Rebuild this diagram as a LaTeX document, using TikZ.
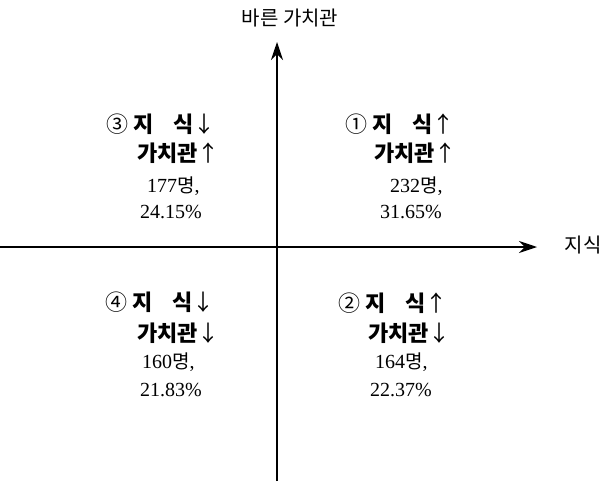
\documentclass[tikz,border=0pt]{standalone}
\usepackage{fontspec}
\setmainfont{Liberation Serif}
\newfontfamily\kr{Noto Sans CJK KR}
\usetikzlibrary{arrows.meta}
\tikzset{
  axis/.style={line width=1.1pt,-{Stealth[length=18pt,width=12pt]}},
  head/.style={font=\kr\fontsize{22}{22}\selectfont,anchor=west,inner sep=0pt},
  num/.style={font=\fontsize{20}{20}\selectfont,anchor=west,inner sep=0pt},
  lbl/.style={font=\kr\fontsize{20}{20}\selectfont,inner sep=0pt}
}
\newcommand{\myung}{{\kr\fontsize{19}{19}\selectfont 명}}
\newcommand{\bk}[1]{{\bfseries #1}}
\begin{document}
\begin{tikzpicture}[x=1pt,y=-1pt]
\useasboundingbox (0,0) rectangle (605,482);
\coordinate (vb) at (277,481);
\coordinate (vt) at (277,42);
\coordinate (hl) at (0,247);
\coordinate (hr) at (537,247);
\draw[axis] (vb) -- (vt);
\draw[axis] (hl) -- (hr);
\node[lbl] (ytitle) at (290,18) {바른 가치관};
\node[lbl] (xtitle) at (583,245) {지식};
% quadrant 3
\node[head] (q3a) at (106,124) {③ \bk{지\hspace{0.9em}식}↓};
\node[head] (q3b) at (137,153) {\bk{가치관}↑};
\node[num] (q3c) at (147,186) {177\myung,};
\node[num] (q3d) at (140,212) {24.15\%};
% quadrant 1
\node[head] (q1a) at (345,124) {① \bk{지\hspace{0.9em}식}↑};
\node[head] (q1b) at (374,153) {\bk{가치관}↑};
\node[num] (q1c) at (390,186) {232\myung,};
\node[num] (q1d) at (380,212) {31.65\%};
% quadrant 4
\node[head] (q4a) at (105,302) {④ \bk{지\hspace{0.9em}식}↓};
\node[head] (q4b) at (137,333) {\bk{가치관}↓};
\node[num] (q4c) at (142,362) {160\myung,};
\node[num] (q4d) at (140,390) {21.83\%};
% quadrant 2
\node[head] (q2a) at (338,303) {② \bk{지\hspace{0.9em}식}↑};
\node[head] (q2b) at (368,333) {\bk{가치관}↓};
\node[num] (q2c) at (375,362) {164\myung,};
\node[num] (q2d) at (370,390) {22.37\%};
\end{tikzpicture}
\end{document}
